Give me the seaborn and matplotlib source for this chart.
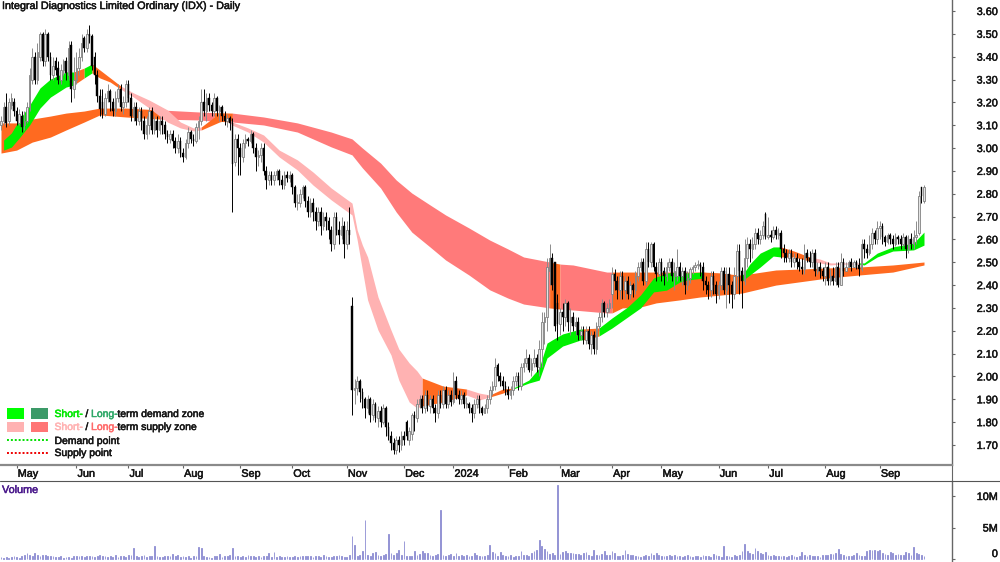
import numpy as np
import pandas as pd
import matplotlib
matplotlib.use('Agg')
import matplotlib.pyplot as plt
import matplotlib.patheffects as pe
import seaborn as sns
from matplotlib.patches import Rectangle
from matplotlib.text import Text
from matplotlib.transforms import Affine2D

# daily bars, prices in cents
opens = [
    310,312,318,312,319,320,316,311,314,310, 312,318,330,340,330,340,350,338,350,340,
    332,338,335,330,334,338,332,345,326,330, 335,340,348,344,350,349,340,332,323,320,
    315,322,325,320,316,322,326,318,320,328, 322,314,318,312,316,312,306,310,316,308,
    312,308,312,310,306,304,306,303,300,303, 298,296,302,307,304,303,309,312,320,316,
    322,319,316,322,316,318,314,312,313,311, 294,304,300,296,302,304,303,306,300,296,
    297,300,290,286,288,286,288,290,286,284, 288,287,288,283,276,276,280,283,277,272,
    276,272,268,272,266,270,268,264,258,270, 264,262,266,258,264,231,194,195,198,193,
    190,186,190,183,188,182,185,180,186,178, 174,171,168,172,170,174,180,172,175,183,
    182,188,190,186,192,187,190,186,184,192, 188,194,188,192,189,198,192,190,192,188,
    188,186,184,188,190,186,184,186,190,194, 196,205,200,198,196,194,192,194,198,200,
    196,204,206,208,203,206,208,204,212,224, 226,246,252,250,232,223,228,226,232,224,
    226,222,224,218,220,216,220,214,218,212, 222,226,232,228,230,236,245,242,238,244,
    238,242,236,240,238,244,248,250,242,256, 250,258,248,245,250,246,244,248,250,244,
    244,248,244,246,240,243,247,248,249,249, 248,242,240,238,244,240,236,240,246,238,
    245,240,236,244,255,246,242,252,258,256, 258,263,260,262,271,261,262,261,264,262,
    263,256,254,252,254,250,252,250,248,247, 254,252,250,254,246,248,246,244,248,242,
    244,242,248,240,250,246,248,250,248,250, 249,247,258,256,254,258,263,260,265,266,
    261,259,262,260,258,261,260,258,261,256, 260,258,261,263,283,277,
]
highs = [
    314,320,324,322,324,322,318,317,316,316, 320,335,344,342,346,351,351,352,351,342,
    340,340,338,337,339,340,347,347,340,342, 344,350,349,352,354,350,342,334,326,326,
    324,328,326,322,325,328,328,323,330,330, 324,320,320,318,318,314,314,318,318,314,
    314,314,314,312,308,308,308,305,306,305, 300,304,309,308,306,311,314,326,326,324,
    324,320,324,323,319,319,316,315,314,313, 306,306,302,304,306,305,308,307,302,299,
    302,302,292,290,290,290,291,291,288,290, 290,290,289,284,280,282,284,284,279,278,
    278,274,274,274,272,272,270,266,272,272, 268,270,268,268,274,235,199,200,199,195,
    191,192,191,190,189,187,187,188,187,180, 176,173,174,174,176,176,181,178,184,185,
    190,192,192,194,194,192,192,188,194,194, 196,196,194,194,202,200,194,194,193,191,
    189,188,190,192,192,187,188,192,196,198, 208,206,202,200,198,196,196,200,202,202,
    206,208,212,210,208,212,210,216,228,228, 252,258,254,250,236,230,232,234,233,230,
    228,226,226,222,222,222,222,220,220,224, 228,234,233,232,234,248,247,244,246,246,
    244,244,242,241,246,250,252,252,259,259, 259,259,250,252,252,248,250,252,252,250,
    256,250,248,248,246,248,249,250,251,250, 250,244,242,246,246,242,242,248,248,248,
    248,242,248,258,258,248,260,261,260,261, 265,265,264,268,272,270,264,266,266,265,
    264,258,256,256,256,254,254,252,252,258, 256,255,256,256,250,250,248,250,250,247,
    248,250,250,254,252,250,251,252,251,251, 252,260,260,258,262,265,264,268,268,267,
    262,263,263,262,263,262,262,263,262,262, 263,264,268,281,283,284,
]
lows = [
    308,310,309,310,317,314,310,310,307,308, 311,316,328,328,328,338,336,336,338,330,
    330,332,328,328,332,330,330,320,322,328, 332,338,342,342,346,334,328,320,314,313,
    314,320,316,314,314,320,316,315,318,320, 312,312,310,310,308,304,304,306,306,306,
    305,306,306,304,302,302,300,298,298,296, 294,295,300,302,301,302,304,310,314,312,
    316,314,314,314,312,312,310,309,308,272, 292,288,288,294,300,301,302,298,290,292,
    294,288,282,284,284,284,286,284,282,282, 285,285,280,274,273,274,278,274,270,270,
    268,264,266,262,264,264,260,255,256,262, 258,260,252,256,258,183,188,192,189,186,
    182,184,180,181,180,178,178,179,174,172, 168,166,166,167,168,170,172,170,172,176,
    180,186,184,184,185,184,184,180,182,186, 186,186,186,187,188,190,188,188,186,186,
    184,180,182,186,184,183,184,184,188,192, 194,198,196,194,192,190,190,192,196,194,
    194,202,204,202,200,204,202,200,204,214, 220,240,238,220,216,218,220,222,220,218,
    220,218,216,216,214,214,212,210,210,210, 220,224,226,226,228,230,238,234,234,234,
    234,234,234,235,236,242,246,240,240,248, 248,246,242,244,242,240,242,246,242,238,
    242,242,240,236,238,241,245,246,247,244, 238,236,234,235,236,232,234,238,236,230,
    232,230,234,238,236,230,240,248,250,252, 256,258,258,260,260,260,259,260,260,260,
    252,250,250,250,248,248,247,246,245,245, 250,248,248,244,245,243,242,240,240,240,
    240,240,239,240,244,246,248,246,248,247, 244,246,252,252,253,256,258,258,260,258,
    257,258,258,256,257,258,256,257,252,254, 256,256,258,262,276,276,
]
closes = [
    312,318,311,320,322,316,312,315,309,312, 318,332,340,330,342,350,338,350,340,332,
    336,334,330,334,338,333,344,326,330,335, 340,346,344,350,349,336,332,323,317,315,
    322,325,320,316,322,326,318,320,328,322, 314,318,312,316,312,306,310,316,308,312,
    308,312,310,306,305,306,303,300,303,298, 296,302,307,304,303,309,312,320,316,322,
    319,316,322,316,318,314,312,313,311,293, 304,300,296,302,304,303,306,300,296,297,
    300,290,286,288,286,288,290,286,284,288, 287,288,283,276,276,280,283,277,272,276,
    272,268,272,266,270,268,264,258,270,264, 262,266,258,264,262,194,195,198,193,190,
    186,190,183,188,182,185,180,186,178,174, 171,168,172,170,174,172,174,176,183,182,
    188,190,186,192,187,190,186,184,192,188, 194,188,192,189,198,192,190,192,188,188,
    186,184,188,190,186,184,186,190,194,196, 204,200,198,196,194,192,194,198,200,196,
    204,206,208,203,206,208,204,212,224,226, 248,252,240,222,223,228,226,232,224,226,
    222,224,218,220,216,220,214,218,212,222, 226,232,228,230,232,245,242,238,244,238,
    242,236,240,238,244,248,250,242,256,250, 258,248,245,250,246,244,248,250,244,246,
    248,244,246,240,243,247,248,249,249,248, 242,240,238,244,240,236,240,246,238,245,
    240,236,244,255,246,242,252,258,256,258, 263,260,262,266,261,262,261,264,262,263,
    256,254,252,254,250,252,250,248,247,254, 252,250,254,246,248,246,244,248,242,244,
    242,248,240,250,246,248,250,248,250,249, 247,258,256,254,258,263,260,265,266,261,
    259,262,260,258,261,260,258,261,256,260, 258,261,262,279,279,283,
]
# volume in units of 100k shares
volumes = [
    3,2,3,2,3,4,3,2,4,6, 9,7,5,9,6,4,7,6,5,4, 4,3,3,4,2,3,3,2,4,4, 4,5,3,4,5,5,3,4,6,5,
    5,3,4,3,6,3,5,4,3,6, 6,17,5,3,4,6,3,4,5,20, 4,3,3,4,5,4,8,5,6,3, 4,3,5,2,4,4,19,18,5,3,
    3,2,4,4,8,3,5,4,6,17, 5,4,3,4,3,6,4,4,3,5, 3,5,4,10,3,11,3,4,3,3, 4,3,3,5,3,4,4,5,4,4,
    3,5,4,3,6,4,3,3,5,4, 6,5,3,3,7,37,22,5,7,13, 62,7,5,9,11,6,5,6,8,40, 10,7,9,14,6,29,4,5,5,13,
    6,8,12,10,9,6,5,7,8,78, 7,4,6,8,5,9,5,7,4,6, 5,4,9,6,4,5,5,7,23,11, 9,5,11,6,4,4,7,3,5,4,
    13,7,6,4,10,12,15,30,20,16, 13,8,10,6,117,8,11,13,9,10, 9,8,8,7,9,11,6,5,14,7, 6,8,12,6,7,13,9,5,5,7,
    15,8,7,6,5,5,3,4,6,5, 9,6,10,7,4,5,4,6,5,7, 5,4,3,5,6,4,3,5,4,3, 6,5,4,3,8,6,5,3,20,5,
    4,3,6,5,7,12,24,12,10,8, 18,12,9,8,11,7,5,6,4,5, 5,4,3,4,6,5,3,4,11,7, 5,6,4,5,5,3,6,7,6,8,
    8,9,16,8,6,5,4,5,7,10, 6,5,4,12,14,14,14,12,15,10, 8,6,11,9,7,8,7,6,11,9, 7,19,10,8,6,4,
]

# long term ribbon
long_idx = [0,6,12,19,25,32,38,48,61,76,82,89,101,114,127,135,139,146,152,158,165,171,180,188,195,201,211,215,220,233,235,239,246,252,261,269,285,298,318,330,343,355]
long_upper = [3.11,3.11,3.127,3.14,3.153,3.162,3.175,3.175,3.167,3.158,3.155,3.153,3.136,3.11,3.07,3.04,3.0,2.934,2.86,2.803,2.751,2.707,2.65,2.597,2.558,2.523,2.501,2.492,2.488,2.457,2.457,2.457,2.457,2.457,2.457,2.457,2.444,2.466,2.475,2.479,2.488,2.501]
long_lower = [2.978,2.991,3.026,3.048,3.079,3.114,3.145,3.136,3.127,3.123,3.118,3.114,3.101,3.07,3.005,2.97,2.913,2.825,2.72,2.632,2.567,2.51,2.444,2.379,2.343,2.317,2.30,2.295,2.291,2.278,2.278,2.30,2.304,2.322,2.335,2.348,2.365,2.40,2.431,2.444,2.457,2.488]
long_seg_start = [0,61,82,89,211,215,235]
long_seg_end = [61,82,89,211,215,235,355]
long_seg_color = ['orange','red','orange','red','orange','red','orange']

# short term ribbon
short_idx = [1,4,7,11,15,19,25,28,32,35,38,42,46,51,57,64,69,74,77,84,87,89,95,101,107,114,120,127,135,137,139,141,145,150,153,157,160,162,170,179,184,188,193,197,203,207,210,212,216,223,224,230,235,241,246,251,256,261,264,270,277,285,288,292,297,300,305,311,315,319,323,330,332,337,343,351,355]
short_upper = [3.035,3.066,3.123,3.188,3.263,3.302,3.333,3.333,3.35,3.368,3.342,3.307,3.272,3.241,3.21,3.167,3.114,3.088,3.092,3.153,3.136,3.114,3.088,3.057,2.991,2.948,2.895,2.825,2.759,2.641,2.575,2.523,2.348,2.203,2.12,2.059,2.024,1.993,1.958,1.945,1.927,1.919,1.945,1.949,1.984,2.037,2.146,2.16,2.186,2.208,2.208,2.212,2.256,2.304,2.357,2.431,2.453,2.457,2.453,2.457,2.453,2.44,2.492,2.54,2.567,2.567,2.549,2.523,2.514,2.497,2.497,2.497,2.497,2.54,2.567,2.584,2.632]
short_lower = [2.991,3.004,3.044,3.101,3.175,3.223,3.267,3.276,3.307,3.329,3.307,3.289,3.258,3.223,3.175,3.114,3.088,3.075,3.079,3.114,3.123,3.10,3.07,3.026,2.961,2.904,2.838,2.773,2.707,2.597,2.466,2.335,2.203,2.094,1.984,1.888,1.862,1.871,1.888,1.919,1.897,1.91,1.927,1.945,1.971,1.984,2.081,2.098,2.133,2.16,2.16,2.177,2.212,2.26,2.30,2.37,2.378,2.413,2.422,2.431,2.422,2.418,2.444,2.479,2.527,2.523,2.523,2.505,2.497,2.488,2.492,2.492,2.488,2.523,2.549,2.554,2.575]
short_seg_start = [1,28,32,35,46,77,87,162,179,188,197,224,230,270,285,300,311,330]
short_seg_end = [28,32,35,46,77,87,162,179,188,197,224,230,270,285,300,311,330,355]
short_seg_color = ['green','orange','green','orange','pink','orange','pink','orange','pink','orange','green','orange','green','orange','green','orange','pink','green']

zone_colors = {'green': '#00f000', 'orange': '#ff6a20', 'pink': '#ffb2b2', 'red': '#ff7a7a'}

month_idx = [6,29,49,70,92,112,133,155,174,195,215,235,254,276,295,317,338]
month_labels = ['May','Jun','Jul','Aug','Sep','Oct','Nov','Dec','2024','Feb','Mar','Apr','May','Jun','Jul','Aug','Sep']
price_ticks = [1.7,1.8,1.9,2.0,2.1,2.2,2.3,2.4,2.5,2.6,2.7,2.8,2.9,3.0,3.1,3.2,3.3,3.4,3.5,3.6]

sns.set_style('white')
plt.rcParams['font.family'] = ['Liberation Sans', 'DejaVu Sans']
TEXT = '#151515'
AXIS = '#666666'

W, H = 1000, 562
fig = plt.figure(figsize=(W / 100, H / 100), dpi=100)
# pixel coordinates measured from top left
px = Affine2D().scale(1, -1).translate(0, H)

def panel(top, bottom):
    return fig.add_axes([0, 1 - bottom / H, 952 / W, (bottom - top) / H])

ax = panel(0, 465)
strip = panel(465, 481)
vol_ax = panel(481, 562)
x_range = (-1 / 2.6, 951 / 2.6)

df = pd.DataFrame({'open': opens, 'high': highs, 'low': lows, 'close': closes, 'volume': volumes})
df[['open', 'high', 'low', 'close']] /= 100
df['volume'] *= 1e5
df['idx'] = df.index
up = df['close'] >= df['open']

# ribbons
for xs, upper, lower, starts, ends, seg_colors in [
    (long_idx, long_upper, long_lower, long_seg_start, long_seg_end, long_seg_color),
    (short_idx, short_upper, short_lower, short_seg_start, short_seg_end, short_seg_color),
]:
    xs = np.array(xs)
    for a, b, c in zip(starts, ends, seg_colors):
        mask = (xs >= a) & (xs <= b)
        ax.fill_between(xs[mask], np.array(upper)[mask], np.array(lower)[mask], color=zone_colors[c], lw=0, zorder=2)

# candles
for is_up, wick, face, edge, lw in [(True, '#8c8c8c', '#e4e4e4', '#808080', 0.6), (False, '#000000', '#000000', '#000000', 0.3)]:
    part = df[up == is_up]
    ax.vlines(part['idx'], part['low'], part['high'], color=wick, lw=0.7, zorder=3)
    body = (part['close'] - part['open']).abs().clip(lower=0.004)
    ax.bar(part['idx'], body, bottom=part[['open', 'close']].min(axis=1), width=0.62,
           color=face, edgecolor=edge, linewidth=lw, zorder=4)

ax.set_xlim(*x_range)
ax.set_ylim(3.6 - 454 / 228.4, 3.6 + 11 / 228.4)
ax.set_yticks(price_ticks)
ax.set_yticklabels([f'{v:.2f}' for v in price_ticks])
ax.set_xticks([])

# volume
sns.barplot(x=df['idx'], y=df['volume'], native_scale=True, color='#8c8cd2', saturation=1, width=0.3,
            edgecolor='#8c8cd2', linewidth=0.6, ax=vol_ax)
vol_ax.set_xlim(*x_range)
vol_ax.set_ylim(-3 / 6.3 * 1e6, 78 / 6.3 * 1e6)
vol_ax.set_yticks([0, 5e6, 10e6])
vol_ax.set_yticklabels(['0', '5M', '10M'])
vol_ax.set_xticks([])
vol_ax.set_xlabel('')
vol_ax.set_ylabel('')

for a in (ax, vol_ax):
    a.yaxis.tick_right()
    a.tick_params(axis='y', length=2, width=0.8, color=AXIS, pad=31, labelsize=7.8, labelcolor=TEXT)
    for lab in a.get_yticklabels():
        lab.set_ha('right')
    for s in ('top', 'bottom', 'left'):
        a.spines[s].set_visible(False)
    a.spines['right'].set_color(AXIS)
    a.spines['right'].set_linewidth(1)
    a.patch.set_alpha(0)
vol_ax.get_yticklabels()[0].set_va('bottom')

# month strip
strip.set_xlim(*x_range)
strip.set_ylim(0, 1)
strip.set_yticks([])
strip.set_xticks(month_idx)
strip.set_xticklabels([])
strip.xaxis.tick_top()
strip.tick_params(axis='x', direction='in', length=2, width=0.8, color=AXIS)
strip.spines['left'].set_visible(False)
strip.spines['right'].set_color(AXIS)
strip.spines['top'].set_color('#8a8a8a')
strip.spines['top'].set_linewidth(1.6)
strip.spines['bottom'].set_visible(False)
for i, lab in zip(month_idx, month_labels):
    strip.annotate(lab, xy=(i, 0.45), xycoords=('data', 'axes fraction'), xytext=(0.8, 0),
                   textcoords='offset points', ha='left', va='center', fontsize=7.8, color=TEXT)
fig.add_artist(plt.Line2D([0, 1], [1 - 481 / H] * 2, color='#555555', lw=0.8))

# title and legend
ax.text(2, 6, 'Integral Diagnostics Limited Ordinary (IDX) - Daily', transform=px, fontsize=7.75,
        va='center', ha='left', color=TEXT, zorder=6)
fig.text(2 / W, 1 - 490 / H, 'Volume', fontsize=7.8, color='#4b1a8c', va='center', ha='left')

for x0, y0, h, c in [(7, 408, 11, '#00ff00'), (31, 408, 11, '#3c9a68'), (7, 422, 10, '#ffb2b2'), (31, 422, 10, '#ff7575')]:
    ax.add_patch(Rectangle((x0, y0), 17, h, transform=px, facecolor=c, edgecolor='none', zorder=6))
ax.plot([7, 48], [440, 440], transform=px, color='#00e000', lw=1.4, ls=(0, (1, 1)), zorder=6, scalex=False, scaley=False)
ax.plot([7, 48], [453, 453], transform=px, color='#ee0000', lw=1.4, ls=(0, (1, 1)), zorder=6, scalex=False, scaley=False)

def legend_row(y, parts):
    prev = None
    for txt, col, gap in parts:
        if prev is None:
            prev = ax.text(54.5, y, txt, transform=px, fontsize=7.5, color=col, va='center', ha='left', zorder=6)
        else:
            prev = ax.annotate(txt, xy=(1, 0.5), xycoords=prev, xytext=(gap, 0), textcoords='offset points',
                               fontsize=7.5, color=col, va='center', ha='left', zorder=6)

legend_row(414, [('Short-', '#00e800', 0), ('/', TEXT, 2), ('Long-', '#2ea868', 2), ('term demand zone', TEXT, 0)])
legend_row(427, [('Short-', '#ffb2b2', 0), ('/', TEXT, 2), ('Long-', '#ff6a6a', 2), ('term supply zone', TEXT, 0)])
legend_row(441, [('Demand point', TEXT, 0)])
legend_row(453, [('Supply point', TEXT, 0)])

# the source text is slightly heavier than regular weight
for t in fig.findobj(Text):
    t.set_path_effects([pe.withStroke(linewidth=0.35, foreground=t.get_color())])

fig.savefig('out.png', dpi=100)
